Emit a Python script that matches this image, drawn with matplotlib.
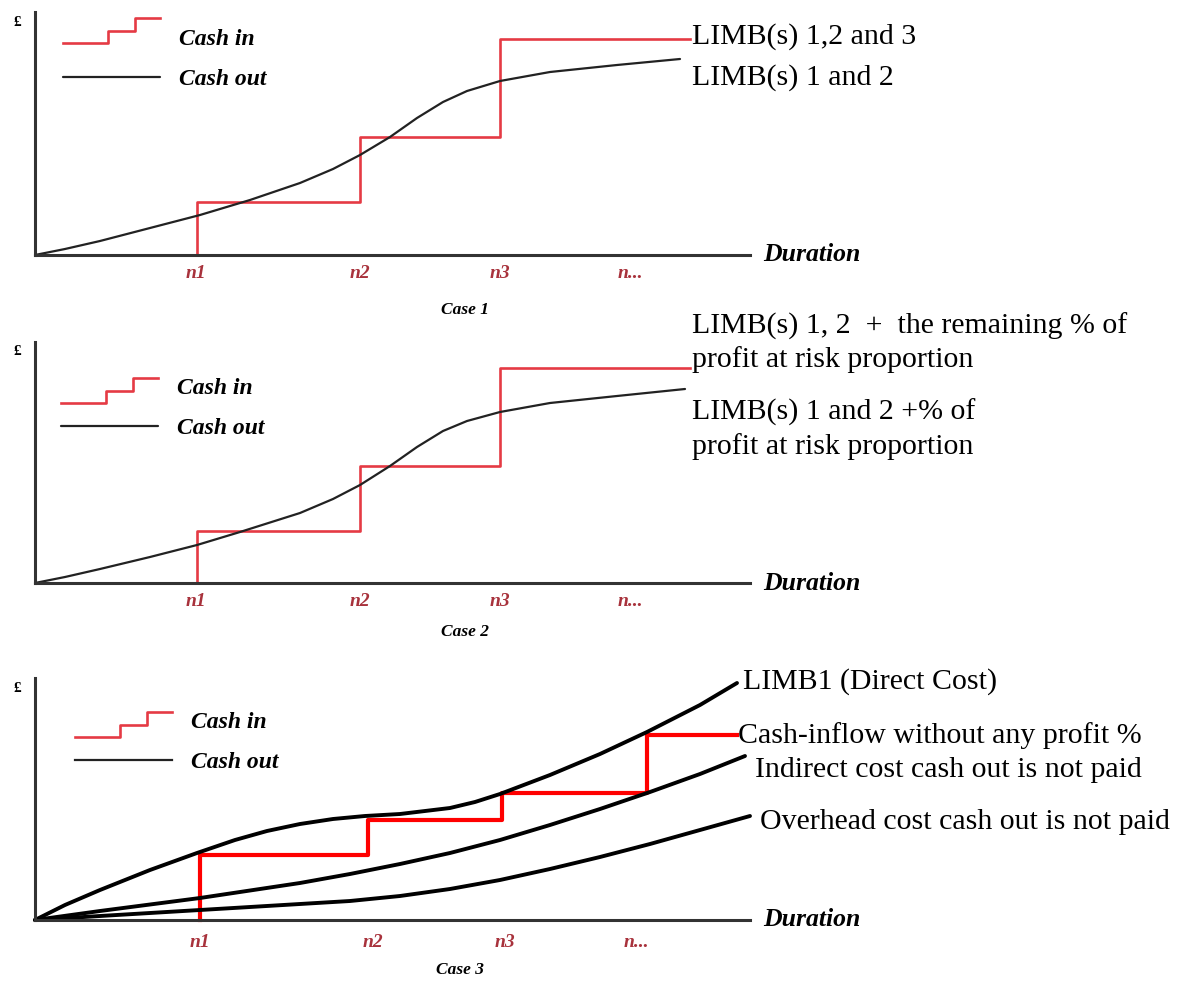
import matplotlib
matplotlib.use('Agg')
import matplotlib.pyplot as plt
from matplotlib.legend_handler import HandlerBase
from matplotlib.lines import Line2D

# units: x = px right of the origin, y = px above the Duration axis
tick_labels = ['n1', 'n2', 'n3', 'n...']

# Case 1
ticks1 = [161, 325, 465, 595]
pay1_x = [162, 325, 465]
cash_in1 = [53, 118, 216]
end1 = 655
out1_x = [0, 30, 65, 115, 165, 215, 265, 298, 325, 355, 382, 408, 432,
          465, 515, 582, 645]
out1_y = [0, 6, 14, 27, 40, 55, 72, 86, 100, 118, 137, 153, 164,
          174, 183, 190, 196]

# Case 2
ticks2 = [161, 325, 465, 595]
pay2_x = [162, 325, 465]
cash_in2 = [52, 117, 215]
end2 = 655
out2_x = [0, 30, 65, 115, 162, 205, 265, 298, 325, 355, 382, 408, 432,
          465, 515, 582, 650]
out2_y = [0, 6, 14, 26, 38, 51, 70, 84, 98, 117, 136, 152, 162,
          171, 180, 187, 194]

# Case 3
ticks3 = [165, 338, 470, 601]
pay3_x = [165, 333, 467, 612]
cash_in3 = [65, 100, 127, 185]
end3 = 702
limb1_x = [0, 30, 65, 115, 162, 200, 232, 265, 298, 330, 365, 415, 440,
           465, 515, 565, 612, 665, 702]
limb1_y = [0, 15, 30, 50, 67, 80, 89, 96, 101, 104, 106, 112, 118,
           126, 145, 166, 188, 215, 237]
indirect_x = [0, 65, 165, 265, 315, 365, 415, 465, 515, 565, 615, 665, 710]
indirect_y = [0, 9, 22, 37, 46, 56, 67, 80, 95, 111, 128, 146, 164]
overhead_x = [0, 65, 165, 265, 315, 365, 415, 465, 515, 565, 615, 665, 715]
overhead_y = [0, 4, 10, 16, 19, 24, 31, 40, 51, 63, 76, 90, 104]

SERIF = 'Liberation Serif'
TICK_RED = '#a8323c'
PALE_RED = '#e53a44'


class StepHandler(HandlerBase):
    def __init__(self, shift=0.0):
        super().__init__()
        self.shift = shift

    def create_artists(self, legend, orig_handle, xdescent, ydescent,
                       width, height, fontsize, trans):
        x0, y0 = -xdescent, -ydescent - self.shift * height
        lv = [0.07, 0.80, 1.59]
        xs = [x0, x0 + 0.46 * width, x0 + 0.46 * width, x0 + 0.74 * width,
              x0 + 0.74 * width, x0 + width]
        ys = [y0 + lv[0] * height, y0 + lv[0] * height,
              y0 + lv[1] * height, y0 + lv[1] * height,
              y0 + lv[2] * height, y0 + lv[2] * height]
        ln = Line2D(xs, ys, color=orig_handle.get_color(),
                    lw=orig_handle.get_linewidth(), transform=trans)
        return [ln]


def panel(rect, ylim, ticks, red_x, red_y, end, red_kw, ax_top, pad):
    ax = fig.add_axes(rect)
    ax.set_xlim(-35, 1146)
    ax.set_ylim(*ylim)
    for s in ['top', 'right']:
        ax.spines[s].set_visible(False)
    ax.spines['left'].set_position(('data', 0))
    ax.spines['bottom'].set_position(('data', 0))
    ax.spines['left'].set_bounds(0, ax_top)
    ax.spines['bottom'].set_bounds(0, 715)
    for s in ['left', 'bottom']:
        ax.spines[s].set_linewidth(2.2)
        ax.spines[s].set_color('#333333')
    ax.set_yticks([])
    ax.set_xticks(ticks, tick_labels)
    ax.tick_params(axis='x', length=0, pad=pad, labelcolor=TICK_RED)
    for t in ax.get_xticklabels():
        t.set_fontfamily(SERIF)
        t.set_fontstyle('italic')
        t.set_fontweight('bold')
        t.set_fontsize(14)
    ax.patch.set_visible(False)

    xs = [red_x[0]] + red_x + [end]
    ys = [0] + red_y + [red_y[-1]]
    red, = ax.plot(xs, ys, drawstyle='steps-post', **red_kw)

    ax.text(728, 0, 'Duration', fontfamily=SERIF, style='italic',
            weight='bold', fontsize=18.5, va='center', ha='left')
    ax.text(-22, ax_top - 10, '£', fontfamily=SERIF, weight='bold',
            fontsize=11, va='center', ha='left')
    return ax, red


def add_legend(ax, red, blk, anchor, shift):
    ax.legend([red, blk], ['Cash in', 'Cash out'], prop=leg_font,
              frameon=False, loc='center left', bbox_to_anchor=anchor,
              bbox_transform=ax.transData, borderpad=0, borderaxespad=0,
              handlelength=4.1, handletextpad=0.8, labelspacing=0.8,
              handler_map={red: StepHandler(shift)})


fig = plt.figure(figsize=(11.81, 9.83), dpi=100)
H = 983.0

leg_font = dict(family=SERIF, style='italic', weight='bold', size=17)
right_fs = 21.5
curve_kw = dict(solid_joinstyle='round', solid_capstyle='round')

# ---- Case 1
ax1, red1 = panel([0, 1 - 325 / H, 1, 325 / H], (-70, 255), ticks1,
                  pay1_x, cash_in1, end1,
                  dict(color=PALE_RED, lw=1.9), 243, 7.5)
blk1, = ax1.plot(out1_x, out1_y, color='#222222', lw=1.6, **curve_kw)
ax1.text(430, -55, 'Case 1', fontfamily=SERIF, style='italic',
         weight='bold', fontsize=12.5, ha='center', va='center')
ax1.text(657, 218, 'LIMB(s) 1,2 and 3', fontfamily=SERIF,
         fontsize=right_fs, va='center')
ax1.text(657, 177, 'LIMB(s) 1 and 2', fontfamily=SERIF,
         fontsize=right_fs, va='center')
add_legend(ax1, red1, blk1, (28, 196), 0.0)

# ---- Case 2
ax2, red2 = panel([0, 1 - 655 / H, 1, 330 / H], (-72, 258), ticks2,
                  pay2_x, cash_in2, end2,
                  dict(color=PALE_RED, lw=1.9), 241, 7.5)
blk2, = ax2.plot(out2_x, out2_y, color='#222222', lw=1.6, **curve_kw)
ax2.text(430, -49, 'Case 2', fontfamily=SERIF, style='italic',
         weight='bold', fontsize=12.5, ha='center', va='center')
for y, s in [(257, 'LIMB(s) 1, 2  +  the remaining % of'),
             (223, 'profit at risk proportion'),
             (171, 'LIMB(s) 1 and 2 +% of'),
             (136, 'profit at risk proportion')]:
    ax2.text(657, y, s, fontfamily=SERIF, fontsize=right_fs, va='center')
add_legend(ax2, red2, blk2, (26, 174.5), 0.63)

# ---- Case 3
ax3, red3 = panel([0, 0, 1, 328 / H], (-63, 265), ticks3,
                  pay3_x, cash_in3, end3,
                  dict(color='#ff0000', lw=3.0), 242, 10)
ax3.plot(limb1_x, limb1_y, color='black', lw=2.8, **curve_kw)
ax3.plot(indirect_x, indirect_y, color='black', lw=2.8, **curve_kw)
ax3.plot(overhead_x, overhead_y, color='black', lw=2.8, **curve_kw)
ax3.text(425, -50, 'Case 3', fontfamily=SERIF, style='italic',
         weight='bold', fontsize=12.5, ha='center', va='center')
for x, y, s in [(708, 238, 'LIMB1 (Direct Cost)'),
                (703, 184, 'Cash-inflow without any profit %'),
                (720, 150, 'Indirect cost cash out is not paid'),
                (725, 98, 'Overhead cost cash out is not paid')]:
    ax3.text(x, y, s, fontfamily=SERIF, fontsize=right_fs, va='center')
leg_red = Line2D([], [], color=PALE_RED, lw=1.9)
leg_blk = Line2D([], [], color='#222222', lw=1.6)
add_legend(ax3, leg_red, leg_blk, (40, 178), 0.63)

fig.savefig('out.png', dpi=100)
